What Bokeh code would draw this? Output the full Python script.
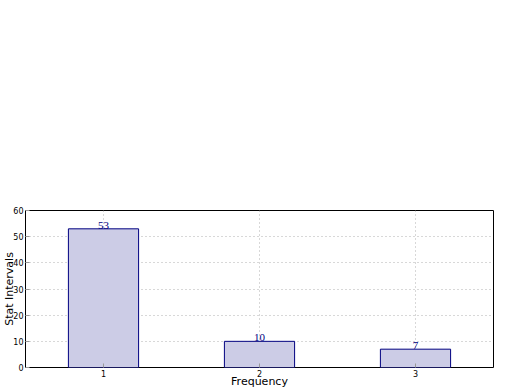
from bokeh.plotting import figure
from bokeh.models import FixedTicker, Range1d, ColumnDataSource, LabelSet
from bokeh.embed import file_html
from bokeh.resources import INLINE

categories = [1, 2, 3]
values = [53, 10, 7]
y_ticks = [0, 10, 20, 30, 40, 50, 60]
x_label = "Frequency"
y_label = "Stat Intervals"

src = ColumnDataSource(dict(x=categories, top=values, label=[str(v) for v in values]))

p = figure(width=520, height=390, output_backend="svg", toolbar_location=None,
           x_range=Range1d(0.5, 3.5), y_range=Range1d(0, 60),
           min_border_left=25, min_border_right=27, min_border_top=210, min_border_bottom=21)
p.background_fill_color = "white"
p.border_fill_color = "white"
p.outline_line_color = "black"
p.outline_line_width = 1

p.vbar(x="x", top="top", bottom=0, width=0.45, source=src,
       fill_color="#ccccE6", line_color="#000080", line_width=1)

labels = LabelSet(x="x", y="top", text="label", source=src, text_align="center",
                  text_baseline="bottom", text_color="#000080", text_font_size="11px",
                  text_font="DejaVu Sans", y_offset=0)
p.add_layout(labels)

for g in (p.xgrid, p.ygrid):
    g.grid_line_color = "#b0b0b0"
    g.grid_line_dash = "1 3"
    g.grid_line_width = 1
p.xgrid.ticker = FixedTicker(ticks=categories)
p.ygrid.ticker = FixedTicker(ticks=y_ticks)

xa = p.xaxis[0]
xa.ticker = FixedTicker(ticks=categories)
ya = p.yaxis[0]
ya.ticker = FixedTicker(ticks=y_ticks)
for ax in (xa, ya):
    ax.axis_line_color = None
    ax.major_tick_in = 4
    ax.major_tick_out = 0
    ax.major_tick_line_color = "#999999"
    ax.minor_tick_line_color = None
    ax.major_label_text_font_size = "8px"
    ax.major_label_text_font = "DejaVu Sans"
    ax.major_label_text_color = "black"
    ax.axis_label_text_font = "DejaVu Sans"
    ax.axis_label_text_font_size = "11px"
    ax.axis_label_text_font_style = "normal"
    ax.axis_label_text_color = "black"
xa.axis_label = x_label
ya.axis_label = y_label
xa.major_label_standoff = 2
xa.axis_label_standoff = -5
ya.major_label_standoff = 2
ya.axis_label_standoff = -6

open("out.html", "w").write(file_html(p, INLINE))
